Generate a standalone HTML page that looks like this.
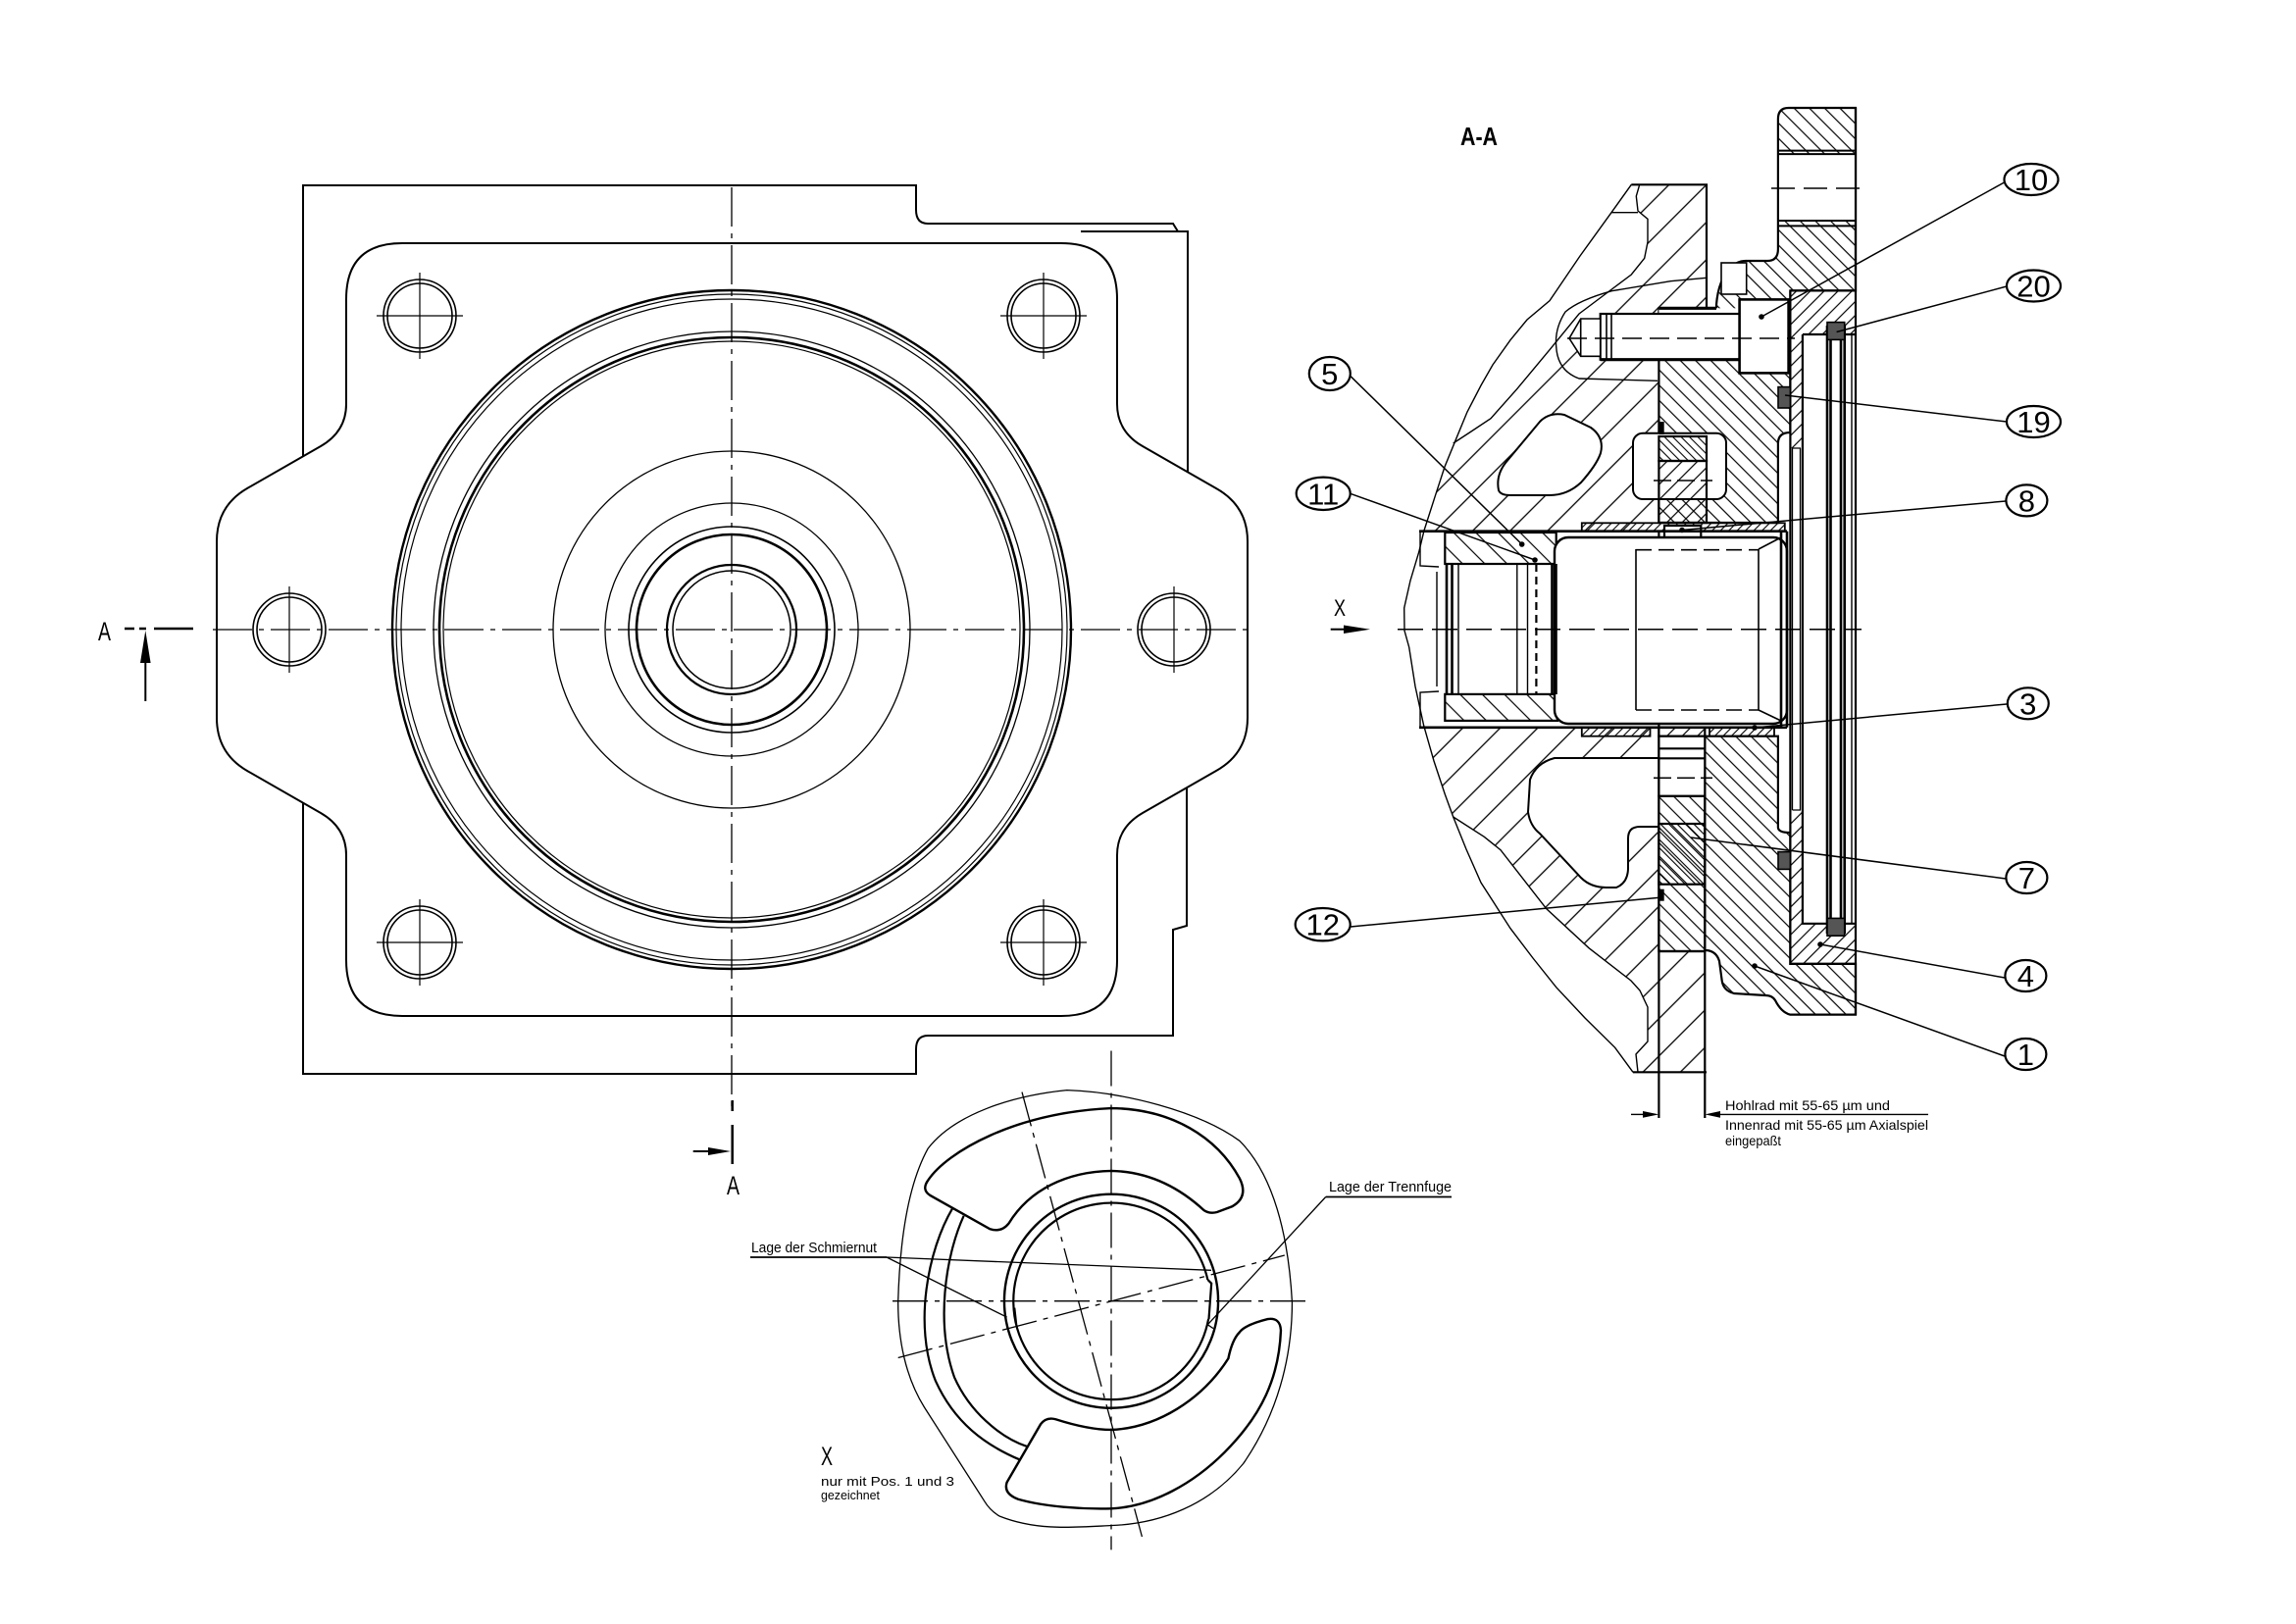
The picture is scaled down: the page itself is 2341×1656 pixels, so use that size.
<!DOCTYPE html>
<html><head><meta charset="utf-8"><style>
html,body{margin:0;padding:0;background:#fff}
svg{display:block}
.xv *{vector-effect:non-scaling-stroke}
text{font-family:"Liberation Sans",sans-serif;fill:#000}
</style></head><body>
<svg width="2341" height="1656" viewBox="0 0 2341 1656" xmlns="http://www.w3.org/2000/svg">
<defs>
<pattern id="pH" width="27" height="27" patternUnits="userSpaceOnUse" patternTransform="rotate(45)"><line x1="13.5" y1="-1" x2="13.5" y2="28" stroke="#000" stroke-width="1.3"/></pattern>
<pattern id="p1" width="11" height="11" patternUnits="userSpaceOnUse" patternTransform="rotate(-45)"><line x1="5.5" y1="-1" x2="5.5" y2="12" stroke="#000" stroke-width="1.2"/></pattern>
<pattern id="p4" width="10" height="10" patternUnits="userSpaceOnUse" patternTransform="rotate(45)"><line x1="5" y1="-1" x2="5" y2="11" stroke="#000" stroke-width="1.2"/></pattern>
<pattern id="pD" width="6" height="6" patternUnits="userSpaceOnUse" patternTransform="rotate(-45)"><line x1="3" y1="-1" x2="3" y2="7" stroke="#000" stroke-width="1.1"/></pattern>
<pattern id="pB" width="6" height="6" patternUnits="userSpaceOnUse" patternTransform="rotate(45)"><line x1="3" y1="-1" x2="3" y2="7" stroke="#000" stroke-width="1.1"/></pattern>
<pattern id="pP" width="16" height="16" patternUnits="userSpaceOnUse" patternTransform="rotate(-45)"><line x1="8" y1="-1" x2="8" y2="17" stroke="#000" stroke-width="1.2"/></pattern>
<pattern id="pS" width="11" height="11" patternUnits="userSpaceOnUse" patternTransform="rotate(45)"><line x1="5.5" y1="-1" x2="5.5" y2="12" stroke="#000" stroke-width="1.2"/></pattern>
</defs>

<!-- ================= LEFT VIEW ================= -->
<g fill="none" stroke="#000" stroke-width="2">
<path d="M1211,481 V236 H1201 L1196,228 H946 Q934,228 934,214 V189 H309 V465"/>
<line x1="1102" y1="236" x2="1211" y2="236"/>
<path d="M309,819 V1095 H934 V1070 Q934,1056 946,1056 H1196 V948 L1210,944 V803"/>
<path d="M410,248 H1082 Q1139,248 1139,305 V412 Q1139,440 1165,455 L1240,498 Q1272,516 1272,552 V732 Q1272,768 1240,786 L1165,829 Q1139,844 1139,872 V979 Q1139,1036 1082,1036 H410 Q353,1036 353,979 V872 Q353,844 327,829 L252,786 Q221,768 221,732 V552 Q221,516 252,498 L327,455 Q353,440 353,412 V305 Q353,248 410,248 Z"/>
</g>
<g fill="none" stroke="#000">
<circle cx="746" cy="642" r="346" stroke-width="2.4"/>
<circle cx="746" cy="642" r="342" stroke-width="1.2"/>
<circle cx="746" cy="642" r="337" stroke-width="1.2"/>
<circle cx="746" cy="642" r="304" stroke-width="1.3"/>
<circle cx="746" cy="642" r="298" stroke-width="2.6"/>
<circle cx="746" cy="642" r="294" stroke-width="1.2"/>
<circle cx="746" cy="642" r="182" stroke-width="1.3"/>
<circle cx="746" cy="642" r="129" stroke-width="1.3"/>
<circle cx="746" cy="642" r="105" stroke-width="1.6"/>
<circle cx="746" cy="642" r="97" stroke-width="2.6"/>
<circle cx="746" cy="642" r="66" stroke-width="2.2"/>
<circle cx="746" cy="642" r="60" stroke-width="1.5"/>
<g stroke-width="1.6">
<circle cx="428" cy="322" r="37"/><circle cx="428" cy="322" r="33"/>
<circle cx="1064" cy="322" r="37"/><circle cx="1064" cy="322" r="33"/>
<circle cx="428" cy="961" r="37"/><circle cx="428" cy="961" r="33"/>
<circle cx="1064" cy="961" r="37"/><circle cx="1064" cy="961" r="33"/>
<circle cx="295" cy="642" r="37"/><circle cx="295" cy="642" r="33"/>
<circle cx="1197" cy="642" r="37"/><circle cx="1197" cy="642" r="33"/>
</g>
<g stroke-width="1.2">
<path d="M384,322 H472 M428,278 V366 M1020,322 H1108 M1064,278 V366 M384,961 H472 M428,917 V1005 M1020,961 H1108 M1064,917 V1005 M295,598 V686 M1197,598 V686"/>
</g>
<line x1="746" y1="191" x2="746" y2="1135" stroke-width="1.3" stroke-dasharray="40 7 5 7"/>
<line x1="217" y1="642" x2="1275" y2="642" stroke-width="1.3" stroke-dasharray="40 7 5 7"/>
</g>
<!-- section marks A -->
<g stroke="#000" fill="#000">
<line x1="127" y1="641" x2="137" y2="641" stroke-width="2.5"/>
<line x1="142" y1="641" x2="149" y2="641" stroke-width="2.5"/>
<line x1="157" y1="641" x2="197" y2="641" stroke-width="2.5"/>
<line x1="148.3" y1="672" x2="148.3" y2="715" stroke-width="2"/>
<polygon points="148.3,643 143,676 153.6,676" stroke="none"/>
<line x1="746.7" y1="1122" x2="746.7" y2="1133" stroke-width="2.5"/>
<line x1="746.7" y1="1147" x2="746.7" y2="1187" stroke-width="2.5"/>
<line x1="706.7" y1="1174" x2="724" y2="1174" stroke-width="2"/>
<polygon points="722,1170 745,1174 722,1178" stroke="none"/>
</g>
<text x="100" y="653" font-size="27" textLength="13" lengthAdjust="spacingAndGlyphs">A</text>
<text x="741" y="1218" font-size="27" textLength="13" lengthAdjust="spacingAndGlyphs">A</text>

<!-- ================= SECTION A-A ================= -->
<text x="1489" y="148" font-size="26" font-weight="bold" textLength="38" lengthAdjust="spacingAndGlyphs">A-A</text>

<!-- housing hatch -->
<g stroke="none" fill="url(#pH)">
<polygon points="1663.3,188.3 1740,188.3 1740,313.3 1691.4,313.3 1691.4,541.7 1452,541.7 1452,541 1463,506.7 1473,476 1485,446.7 1496,420 1510,393 1522,372 1540,346.7 1557,326 1580,306.7 1611,261 1643,216.7"/>
<polygon points="1451.7,741.8 1691.4,741.8 1691.4,970 1738.3,970 1738.3,1093.3 1665,1093.3 1646.7,1068.3 1616,1038 1586.7,1006.7 1563,977 1540,946.7 1510,900 1495,866 1481.7,833 1473.3,810 1462,776"/>
</g>
<!-- white slivers -->
<g fill="#fff" stroke="none">
<polygon points="1663.3,188.3 1643,216.7 1611,261 1580,306.7 1557,326 1540,346.7 1522,372 1510,393 1496,420 1485,446.7 1481.7,452 1500,440 1520,426.7 1546.7,396.7 1580,356.7 1610,320 1643.3,295 1663.3,280 1676.7,263.3 1680,246.7 1680,223.3 1670,215 1668.3,200 1671.7,188.3"/>
<polygon points="1481.7,833 1495,866 1510,900 1540,946.7 1563,977 1586.7,1006.7 1616,1038 1646.7,1068.3 1665,1093.3 1670,1093.3 1668,1075 1680,1062 1680,1027 1672,1010 1663,1000 1620,966.7 1576.7,926.7 1530,866.7 1513.3,853.3"/>
</g>
<g fill="none" stroke="#000" stroke-width="1.4">
<polyline points="1663.3,188.3 1643,216.7 1611,261 1580,306.7 1557,326 1540,346.7 1522,372 1510,393 1496,420 1485,446.7 1473,476 1463,506.7 1452,541 1446.7,563 1438,592 1431.7,620 1432,643 1436.7,660 1443,700 1451.7,740 1462,776 1473.3,810 1481.7,833 1495,866 1510,900 1540,946.7 1563,977 1586.7,1006.7 1616,1038 1646.7,1068.3 1665,1093.3"/>
<polyline points="1481.7,452 1500,440 1520,426.7 1546.7,396.7 1580,356.7 1610,320 1643.3,295 1663.3,280 1676.7,263.3 1680,246.7 1680,223.3 1670,215 1668.3,200 1671.7,188.3"/>
<line x1="1643" y1="216.7" x2="1670" y2="216.7"/>
<polyline points="1481.7,833 1513.3,853.3 1530,866.7 1576.7,926.7 1620,966.7 1663,1000 1672,1010 1680,1027 1680,1062 1668,1075 1670,1093.3"/>
<path d="M1740,283.3 L1703.3,286.7 L1643.3,296.7 Q1610,306 1596,318 Q1585,335 1586.7,353.3 Q1588,378 1610,386 L1690,388.3"/>
</g>
<!-- cavities -->
<g fill="#fff" stroke="#000" stroke-width="2">
<path d="M1528,500 Q1525,485 1535,472 L1570,430 Q1580,420 1595,423 L1622,436 Q1636,446 1632,462 Q1628,474 1612,492 Q1598,505 1580,505 L1540,505 Q1530,505 1528,500 Z"/>
<path d="M1691,773 L1585,773 Q1566,778 1560,795 L1558,828 Q1560,842 1570,850 L1612,895 Q1622,905 1638,905 L1648,905 Q1660,900 1660,885 L1660,855 Q1660,843 1672,843 L1691,843"/>
</g>
<g fill="none" stroke="#000" stroke-width="2.2">
<path d="M1663.3,188.3 H1740 V313.3"/>
<path d="M1665,1093.3 H1740"/>
</g>

<!-- part 1 -->
<g fill="url(#p1)" stroke="#000" stroke-width="2.2">
<path d="M1823.6,110 L1892,110 L1892,296.4 L1825.4,296.4 L1825.4,441 Q1812.9,441 1812.9,452 L1812.9,533 L1691.4,533 L1691.4,314.3 L1750,314.3 L1750,310.7 Q1752,285 1765,272 Q1772,266 1780,266 L1802,266 Q1812.9,266 1812.9,254 L1812.9,121.4 Q1812.9,110 1823.6,110 Z"/>
<path d="M1738.3,750.7 L1812.9,750.7 L1812.9,843.6 Q1812.9,849 1825.4,849 L1825.4,982.9 L1892,982.9 L1892,1034.6 L1825,1034.6 Q1816,1032 1810,1020 Q1807,1015 1800,1015 L1768,1013 Q1757,1010 1755.7,1000 L1753,980 Q1750,970 1740,969 L1738.3,969 Z"/>
<rect x="1691.4" y="811.7" width="46.9" height="158.3"/>
</g>
<!-- flange hole band -->
<rect x="1813" y="157.1" width="79" height="67.9" fill="#fff"/>
<g stroke="#000" stroke-width="2" fill="none">
<path d="M1813,153.6 H1892 M1813,157.1 H1892 M1813,225 H1892 M1813,230.4 H1892 M1813,157 V231"/>
<rect x="1755" y="268" width="25.7" height="32" fill="#fff" stroke-width="1.6"/>
</g>
<line x1="1806" y1="192" x2="1897" y2="192" stroke="#000" stroke-width="1.5" stroke-dasharray="24 9"/>

<!-- part 4 -->
<g fill="url(#p4)" stroke="none">
<rect x="1825.4" y="296.4" width="66.6" height="44.6"/>
<rect x="1825.4" y="341" width="12.5" height="116"/>
<rect x="1825.4" y="826" width="12.5" height="116"/>
<rect x="1825.4" y="941.8" width="66.6" height="41.1"/>
</g>
<g fill="none" stroke="#000" stroke-width="2.2">
<path d="M1825.4,296.4 H1892 M1825.4,296.4 V982.9 H1892 M1837.9,341 H1892 M1837.9,341 V941.8 H1892 M1892,110 V1034.6"/>
<path d="M1827.5,457 V826 M1835.5,457 V826 M1827.5,457 H1836 M1827.5,826 H1836" stroke-width="1.3"/>
</g>
<!-- seal strip -->
<g stroke="#000" fill="none">
<path d="M1863,332 V952 M1866.5,332 V952 M1877,332 V952 M1880.7,332 V952" stroke-width="2.6"/>
<path d="M1888,341 V942" stroke-width="1.4"/>
</g>
<g fill="#555" stroke="#000" stroke-width="1.6">
<rect x="1863" y="328.6" width="17.7" height="17.8"/>
<rect x="1863" y="936.4" width="17.7" height="17.8"/>
<rect x="1813" y="394.6" width="12.4" height="21.4"/>
<rect x="1813" y="868.6" width="12.4" height="17.8"/>
</g>

<!-- strip top -->
<rect x="1665" y="441.7" width="95" height="67.3" rx="10" fill="#fff" stroke="#000" stroke-width="2"/>
<g stroke="#000" stroke-width="2.2">
<rect x="1691.4" y="445" width="48.6" height="25" fill="url(#pD)"/>
<rect x="1691.4" y="470" width="48.6" height="63" fill="url(#pS)"/>
</g>
<line x1="1686" y1="490" x2="1746" y2="490" stroke="#000" stroke-width="1.5" stroke-dasharray="18 6"/>
<rect x="1691.7" y="430" width="5" height="13" fill="#000"/>

<!-- strip bottom -->
<g stroke="#000" stroke-width="2.2">
<rect x="1691.4" y="741.8" width="46.9" height="8.9" fill="url(#pS)"/>
<rect x="1691.4" y="750.7" width="46.9" height="61" fill="#fff"/>
<rect x="1691.4" y="840" width="46.9" height="61.7" fill="url(#pD)"/>
<path d="M1691.4,763.3 H1738.3 M1691.4,773.3 H1738.3" fill="none"/>
<path d="M1691.4,970 H1738.3" fill="none"/>
</g>
<line x1="1686" y1="793.3" x2="1746" y2="793.3" stroke="#000" stroke-width="1.5" stroke-dasharray="18 6"/>
<rect x="1691.7" y="906.7" width="5" height="12" fill="#000"/>
<line x1="1691.4" y1="541" x2="1691.4" y2="1140" stroke="#000" stroke-width="2.2"/>
<line x1="1738.3" y1="970" x2="1738.3" y2="1140" stroke="#000" stroke-width="2.2"/>

<!-- bushings -->
<g stroke="#000" stroke-width="1.8" fill="url(#pB)">
<rect x="1612.8" y="533.3" width="207" height="8.4"/>
<rect x="1612.8" y="741.8" width="69.7" height="8.9"/>
<rect x="1743" y="741.8" width="66" height="8.9"/>
</g>
<rect x="1697" y="536" width="37.3" height="12.2" fill="#fff" stroke="#000" stroke-width="2.2"/>

<!-- pinion / shaft -->
<g stroke="#000">
<rect x="1473.3" y="543" width="113.4" height="32" fill="url(#pP)" stroke-width="2.2"/>
<rect x="1473.3" y="707.9" width="114.6" height="27" fill="url(#pP)" stroke-width="2.2"/>
<rect x="1585" y="548" width="237" height="190" rx="14" fill="#fff" stroke-width="2.4"/>
<path d="M1447,541.7 H1822 M1447,741.8 H1822" stroke-width="2.6" fill="none"/>
<path d="M1475,575 V708 M1480.5,575 V708 M1582.5,575 V708 M1586.5,575 V708" stroke-width="2.6" fill="none"/>
<path d="M1487,575 V708 M1546.8,575 V708 M1557.5,575 V708 M1465,583 V700" stroke-width="1.4" fill="none"/>
<path d="M1566.4,575 V708" stroke-width="2.2" stroke-dasharray="8 5" fill="none"/>
<path d="M1448,543 V577 L1467,578 M1448,741 V706 L1467,705" stroke-width="1.4" fill="none"/>
<path d="M1668,560 V724 M1793,560 V724 M1793,560 L1816,548 M1793,724 L1816,735" stroke-width="1.6" fill="none"/>
<path d="M1668,560.7 H1793 M1668,724 H1793" stroke-width="1.6" stroke-dasharray="16 7" fill="none"/>
<path d="M1816,541.7 V741.8 M1822,541.7 V741.8" stroke-width="2.6" fill="none"/>
</g>

<!-- bolt -->
<g stroke="#000" fill="#fff">
<rect x="1691.4" y="314.3" width="82.2" height="53.6" stroke="none"/>
<rect x="1631.7" y="320" width="141.9" height="46.7" stroke-width="2.2"/>
<path d="M1611.7,325 H1631.7 V363.3 H1611.7 L1600,345 Z" stroke-width="1.6"/>
<path d="M1638,320 V366.7 M1643,320 V366.7 M1611.7,325 V363.3" stroke-width="1.6" fill="none"/>
<rect x="1773.6" y="305.4" width="50" height="75" stroke-width="2.6"/>
<path d="M1631.7,366.7 H1773.6 M1691.4,314.3 H1750" stroke-width="3.2" fill="none"/>
</g>
<line x1="1598" y1="345" x2="1830" y2="345" stroke="#000" stroke-width="1.4" stroke-dasharray="20 8"/>

<!-- centerline -->
<line x1="1425" y1="641.7" x2="1898" y2="641.7" stroke="#000" stroke-width="1.5" stroke-dasharray="26 9"/>
<!-- X arrow -->
<line x1="1356.7" y1="641.7" x2="1372" y2="641.7" stroke="#000" stroke-width="2"/>
<polygon points="1370,637.5 1397,641.7 1370,646" fill="#000"/>
<text x="1360" y="628" font-size="24" textLength="12" lengthAdjust="spacingAndGlyphs">X</text>

<!-- dimension -->
<g stroke="#000" fill="#000">
<line x1="1663" y1="1136.4" x2="1677" y2="1136.4" stroke-width="1.4"/>
<polygon points="1691.4,1136.4 1675,1133 1675,1139.8" stroke="none"/>
<line x1="1752" y1="1136.4" x2="1966" y2="1136.4" stroke-width="1.4"/>
<polygon points="1738.3,1136.4 1754,1133 1754,1139.8" stroke="none"/>
</g>
<text x="1759" y="1132" font-size="14" textLength="168" lengthAdjust="spacingAndGlyphs">Hohlrad mit 55-65 µm und</text>
<text x="1759" y="1152" font-size="14" textLength="207" lengthAdjust="spacingAndGlyphs">Innenrad mit 55-65 µm Axialspiel</text>
<text x="1759" y="1168" font-size="14" textLength="57" lengthAdjust="spacingAndGlyphs">eingepaßt</text>

<!-- leaders -->
<g stroke="#000" stroke-width="1.5" fill="none">
<line x1="2043.5" y1="186" x2="1796" y2="323"/>
<line x1="2046" y1="292" x2="1872.6" y2="338.5"/>
<line x1="2046" y1="430" x2="1820" y2="403"/>
<line x1="2045" y1="511" x2="1715" y2="540.5"/>
<line x1="2046" y1="718" x2="1789" y2="742"/>
<line x1="2045" y1="896" x2="1724" y2="854"/>
<line x1="2044" y1="997" x2="1856" y2="963"/>
<line x1="2044" y1="1077" x2="1789" y2="985"/>
<line x1="1376.7" y1="383.3" x2="1551.7" y2="555"/>
<line x1="1376.7" y1="503.3" x2="1565" y2="571"/>
<line x1="1377" y1="945" x2="1695" y2="915"/>
</g>
<g fill="#000">
<circle cx="1796" cy="323" r="2.8"/><circle cx="1715" cy="540.5" r="2.8"/><circle cx="1789" cy="742" r="2.8"/>
<circle cx="1856" cy="963" r="2.8"/><circle cx="1789" cy="985" r="2.8"/><circle cx="1551.7" cy="555" r="2.8"/>
<circle cx="1565" cy="571" r="2.8"/>
</g>
<!-- labels -->
<g fill="#fff" stroke="#000" stroke-width="2.2">
<ellipse cx="2071" cy="183" rx="27.5" ry="16"/>
<ellipse cx="2073.5" cy="291.5" rx="27.5" ry="16"/>
<ellipse cx="2073.5" cy="430" rx="27.5" ry="16"/>
<ellipse cx="2066.4" cy="510.4" rx="21" ry="16"/>
<ellipse cx="2067.8" cy="717.3" rx="21" ry="16"/>
<ellipse cx="2066.4" cy="895" rx="21" ry="16"/>
<ellipse cx="2065.4" cy="995" rx="21" ry="16"/>
<ellipse cx="2065.4" cy="1075" rx="21" ry="16"/>
<ellipse cx="1355.8" cy="381" rx="21" ry="17"/>
<ellipse cx="1349.2" cy="503.3" rx="27.5" ry="16.7"/>
<ellipse cx="1348.7" cy="942.7" rx="28" ry="16.7"/>
</g>
<g font-size="31" text-anchor="middle">
<text x="2071" y="194">10</text>
<text x="2073.5" y="302.5">20</text>
<text x="2073.5" y="441">19</text>
<text x="2066.4" y="521.4">8</text>
<text x="2067.8" y="728.3">3</text>
<text x="2066.4" y="906">7</text>
<text x="2065.4" y="1006">4</text>
<text x="2065.4" y="1086">1</text>
<text x="1355.8" y="392">5</text>
<text x="1349.2" y="514.3">11</text>
<text x="1348.7" y="953.7">12</text>
</g>

<!-- ================= VIEW X ================= -->
<g stroke="#000" stroke-width="1.3" fill="none">
<line x1="1133" y1="1071.5" x2="1133" y2="1580.4" stroke-dasharray="36 7 5 7"/>
<line x1="910" y1="1326.7" x2="1331" y2="1326.7" stroke-dasharray="36 7 5 7"/>
<line x1="1042" y1="1113.6" x2="1164.4" y2="1567" stroke-dasharray="36 7 5 7"/>
<line x1="915.7" y1="1384.5" x2="1309.8" y2="1280" stroke-dasharray="36 7 5 7"/>
</g>
<g class="xv" transform="translate(820,1060) scale(0.38265)" fill="none" stroke="#000">
<path stroke-width="1.3" d="M330,290 C400,200 550,150 700,135 C850,140 1050,190 1160,270 C1250,360 1290,520 1300,700 C1300,850 1260,1000 1170,1130 C1080,1240 950,1290 820,1295 C720,1300 620,1310 520,1270 Q495,1255 480,1230 L320,980 C270,900 250,800 250,700 C255,520 280,380 330,290 Z"/>
<path stroke-width="2.4" d="M330,375 C380,300 560,195 818,183 C980,185 1100,260 1160,370 Q1185,420 1140,445 L1100,460 Q1080,465 1065,455 C1000,395 920,352 818,350 C700,352 600,400 545,490 Q525,515 495,505 L335,415 Q312,400 330,375 Z"/>
<path stroke-width="2.4" d="M1160,780 Q1175,760 1235,745 Q1268,740 1270,775 C1265,900 1220,1000 1120,1100 C1040,1180 930,1245 818,1250 C740,1252 640,1245 570,1225 Q530,1210 540,1180 L630,1025 Q645,1005 670,1012 C720,1028 770,1040 818,1040 C940,1035 1060,960 1130,850 Q1140,800 1160,780 Z"/>
<path stroke-width="2.2" d="M395,450 C330,560 290,760 350,910 C400,1020 480,1080 575,1120"/>
<path stroke-width="2.2" d="M425,470 C375,580 350,760 400,900 C440,990 520,1060 595,1085"/>
<circle cx="818" cy="697" r="285" stroke-width="2.4"/>
<path stroke-width="2.2" d="M1077,745 A262,262 0 1 1 1075,640 M1075,640 L1085,650 L1078,745 M560,715 L565,760"/>
<path stroke-width="1.3" d="M1075,760 L1090,770"/>
</g>
<!-- X texts and leaders -->
<g stroke="#000" stroke-width="1.3" fill="none">
<line x1="765" y1="1282" x2="904" y2="1282" stroke-width="1.8"/>
<line x1="904" y1="1282" x2="1235" y2="1295.3"/>
<line x1="904" y1="1282" x2="1026.7" y2="1343.2"/>
<line x1="1351.7" y1="1220.5" x2="1480" y2="1220.5" stroke-width="1.8"/>
<line x1="1351.7" y1="1220.5" x2="1231.3" y2="1350.8"/>
</g>
<text x="766" y="1277" font-size="15" textLength="128" lengthAdjust="spacingAndGlyphs">Lage der Schmiernut</text>
<text x="1355" y="1215" font-size="15" textLength="125" lengthAdjust="spacingAndGlyphs">Lage der Trennfuge</text>
<text x="837" y="1494" font-size="27" textLength="12" lengthAdjust="spacingAndGlyphs">X</text>
<text x="837" y="1515" font-size="13" textLength="136" lengthAdjust="spacingAndGlyphs">nur mit Pos. 1 und 3</text>
<text x="837" y="1529" font-size="13" textLength="60" lengthAdjust="spacingAndGlyphs">gezeichnet</text>
</svg>
</body></html>
